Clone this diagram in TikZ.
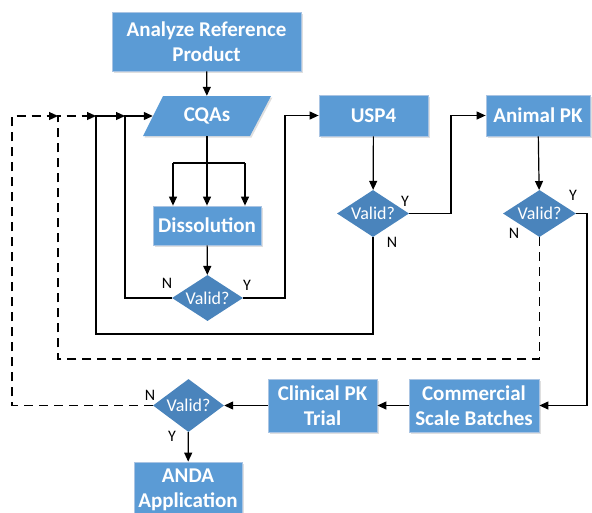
\documentclass[tikz,border=0pt]{standalone}
\usepackage{fontspec}
\setmainfont{Carlito}
\usetikzlibrary{shapes.geometric,arrows.meta,shadows}
\definecolor{boxblue}{HTML}{5B9BD5}
\definecolor{diablue}{HTML}{4A84BC}
\definecolor{boxedge}{HTML}{A9C4E3}
\tikzset{
  procbox/.style={rectangle, fill=boxblue, draw=boxedge, line width=0.8pt, text=white,
    font=\fontsize{21}{24.5}\selectfont\bfseries, align=center, inner sep=0pt,
    drop shadow={opacity=0.25, shadow xshift=1.5pt, shadow yshift=-1.5pt}},
  decbox/.style={diamond, fill=diablue, draw=none, text=white, aspect=1.5, inner sep=0pt,
    font=\fontsize{18}{20}\selectfont},
  lbl/.style={font=\fontsize{16}{18}\selectfont, text=black, inner sep=0pt},
  conn/.style={line width=1.2pt, draw=black},
  arr/.style={conn, -{Triangle[length=9pt,width=8pt]}},
  dsh/.style={dash pattern=on 9pt off 6pt}
}
\begin{document}
\begin{tikzpicture}[x=1pt,y=-1pt]
\useasboundingbox (0,0) rectangle (592,512);
\clip (0,0) rectangle (592,512);
% nodes
\node[procbox, minimum width=189pt, minimum height=59pt] (ana) at (206.5,41.5) {Analyze Reference\\Product};
\fill[boxblue, drop shadow={opacity=0.25, shadow xshift=1.5pt, shadow yshift=-1.5pt}] (163,96) -- (271,96) -- (250,136) -- (143,136) -- cycle;
\node[rectangle, minimum width=108pt, minimum height=40pt, inner sep=0pt, text=white, font=\fontsize{21}{24.5}\selectfont\bfseries] (cqa) at (207,116) {CQAs};
\node[procbox, minimum width=108pt, minimum height=39pt] (dis) at (207,225.5) {Dissolution};
\node[decbox, minimum width=71pt, minimum height=46pt] (v1) at (207.5,298) {Valid?};
\node[procbox, minimum width=109pt, minimum height=41pt] (usp) at (373.5,115.5) {USP4};
\node[decbox, minimum width=72pt, minimum height=47pt] (v2) at (373,213.5) {Valid?};
\node[procbox, minimum width=104pt, minimum height=41pt] (apk) at (538,115.5) {Animal PK};
\node[decbox, minimum width=73pt, minimum height=47pt] (v3) at (539.5,213.5) {Valid?};
\node[procbox, minimum width=130pt, minimum height=53pt] (com) at (474,405.5) {Commercial\\Scale Batches};
\node[procbox, minimum width=109pt, minimum height=53pt] (cli) at (322.5,405.5) {Clinical PK\\Trial};
\node[decbox, minimum width=71pt, minimum height=53pt] (v4) at (188.5,405.5) {Valid?};
\node[procbox, minimum width=108pt, minimum height=56pt] (anda) at (188,490) {ANDA\\Application};
% helper coordinates
\coordinate (br) at (207,163);
\coordinate (brl) at (173,163);
\coordinate (brr) at (245,163);
\coordinate (j1) at (125,116);
\coordinate (j2) at (96,116);
\coordinate (j3) at (58,116);
\coordinate (j4) at (12,116);
% connectors
\draw[arr] (ana) -- (cqa);
\draw[conn] (cqa.south) -- (br);
\draw[conn] (brl) -- (brr);
\draw[arr] (br) -- (dis.north);
\draw[arr] (brl) -- (brl |- dis.north);
\draw[arr] (brr) -- (brr |- dis.north);
\draw[arr] (dis) -- (v1);
\draw[arr] (v1.west) -| (j1) -- (cqa.west);
\draw[arr] (v1.east) -- (285,298) |- (usp.west);
\draw[arr] (usp) -- (v2);
\draw[arr] (v2.south) |- (96,334) -- (j2) -- (j1);
\draw[arr] (v2.east) -- (451,213.5) |- (apk.west);
\draw[arr] (apk) -- (v3);
\draw[arr] (v3.east) -- (587,213.5) |- (com.east);
\draw[arr, dsh] (v3.south) |- (58,359) -- (j3) -- (j2);
\draw[arr] (com) -- (cli);
\draw[arr] (cli) -- (v4);
\draw[arr, dsh] (v4.west) -- (12,405.5) -- (j4) -- (j3);
\draw[arr] (v4) -- (anda);
% labels
\node[lbl] (n1) at (167,283) {N};
\node[lbl] (y1) at (247,285) {Y};
\node[lbl] (y2) at (405,201) {Y};
\node[lbl] (n2) at (392,242) {N};
\node[lbl] (y3) at (573,195) {Y};
\node[lbl] (n3) at (514,233) {N};
\node[lbl] (n4) at (150,395) {N};
\node[lbl] (y4) at (172,436) {Y};
\end{tikzpicture}
\end{document}
